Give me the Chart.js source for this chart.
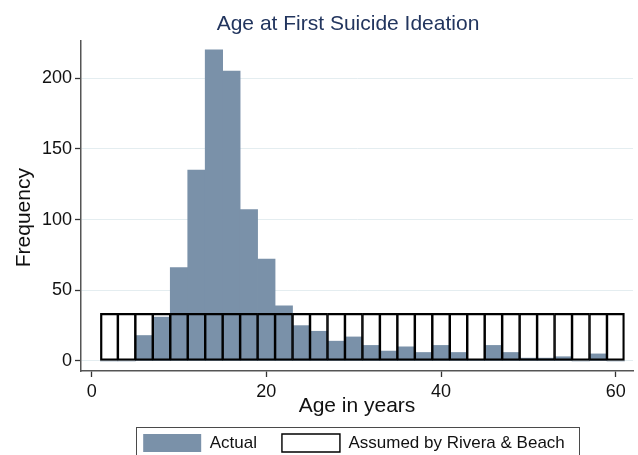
<!DOCTYPE html>
<html>
<head>
<meta charset="utf-8">
<script src="https://cdn.jsdelivr.net/npm/chart.js@4/dist/chart.umd.min.js"></script>
<style>
  html, body { margin: 0; padding: 0; background: #fff; }
</style>
</head>
<body>
<canvas id="ageChart" width="638" height="455"></canvas>
<script>
// 2-year bins from 1 to 61, centred here
const binCenters = [2, 4, 6, 8, 10, 12, 14, 16, 18, 20, 22, 24, 26, 28, 30,
                    32, 34, 36, 38, 40, 42, 44, 46, 48, 50, 52, 54, 56, 58, 60];
const actualCounts = [0, 0, 18, 31, 66, 135, 220, 205, 107, 72, 39, 25, 21, 14, 17,
                      11, 7, 10, 6, 11, 6, 1, 11, 6, 2, 2, 3, 0, 5, 0];
const assumedCounts = [33.7, 33.7, 33.7, 33.7, 33.7, 33.7, 33.7, 33.7, 33.7, 33.7,
                       33.7, 33.7, 33.7, 33.7, 33.7, 33.7, 33.7, 33.7, 33.7, 33.7,
                       33.7, 33.7, 33.7, 33.7, 33.7, 33.7, 33.7, 33.7, 33.7, 33.7];
const xTicks = [0, 20, 40, 60];
const yTicks = [0, 50, 100, 150, 200];

Chart.defaults.font.family = "'Liberation Sans', Arial, sans-serif";
Chart.defaults.color = "#111";

const lastBin = binCenters.length - 1;

// nudges title/legend to where the original puts them, and boxes the legend
const layoutFix = {
    id: "layoutFix",
    afterLayout(chart) {
        const t = chart.titleBlock;
        const dx = 348 - (t.left + t.right) / 2;
        t.left += dx;
        t.right += dx;
        const lg = chart.legend;
        lg.left -= 3;
        lg.right -= 3;
        lg.top = 409;
        lg.bottom = chart.height;
        lg.height = lg.bottom - lg.top;
    },
    afterDraw(chart) {
        const boxes = chart.legend.legendHitBoxes;
        if (!boxes || !boxes.length) return;
        const first = boxes[0];
        const last = boxes[boxes.length - 1];
        const ctx = chart.ctx;
        const x0 = Math.round(first.left - 7) + 0.5;
        const x1 = Math.round(last.left + last.width + 14) + 0.5;
        const y0 = Math.round(first.top - 7) + 0.5;
        ctx.save();
        ctx.strokeStyle = "#4a4a4a";
        ctx.lineWidth = 1;
        ctx.strokeRect(x0, y0, x1 - x0, 60);
        ctx.restore();
    }
};

new Chart(document.getElementById("ageChart"), {
    type: "bar",
    data: {
        labels: binCenters,
        datasets: [
            {
                label: "Actual",
                data: actualCounts,
                backgroundColor: "#7a91a9",
                borderWidth: 0,
                barPercentage: 1,
                categoryPercentage: 1,
                grouped: false,
                order: 1
            },
            {
                label: "Assumed by Rivera & Beach",
                data: assumedCounts,
                backgroundColor: "rgba(255,255,255,0)",
                borderColor: "#000",
                borderWidth: c => ({
                    left: c.dataIndex === 0 ? 1.6 : 0.9,
                    right: c.dataIndex === lastBin ? 1.6 : 0.9,
                    top: 1.6,
                    bottom: 1.6
                }),
                borderSkipped: false,
                barPercentage: 1,
                categoryPercentage: 1,
                grouped: false,
                order: 0
            }
        ]
    },
    options: {
        responsive: false,
        animation: false,
        layout: { padding: { left: 0, right: 5, top: 0, bottom: 0 } },
        plugins: {
            title: {
                display: true,
                text: "Age at First Suicide Ideation",
                color: "#22355e",
                font: { size: 21, weight: "normal", lineHeight: 1.2 },
                padding: { top: 12, bottom: 3.8 }
            },
            legend: {
                position: "bottom",
                fullSize: false,
                reverse: true,
                maxHeight: 36.4,
                labels: {
                    boxWidth: 58,
                    boxHeight: 18,
                    padding: 25,
                    color: "#111",
                    font: { size: 17 }
                }
            },
            tooltip: { enabled: false }
        },
        scales: {
            x: {
                type: "linear",
                min: -1.22,
                max: 61.98,
                offset: false,
                afterBuildTicks: s => { s.ticks = xTicks.map(v => ({ value: v })); },
                afterFit: s => { s.height = 47.6; },
                grid: {
                    drawOnChartArea: false,
                    drawTicks: true,
                    offset: false,
                    tickLength: 6,
                    tickColor: "#333",
                    tickWidth: 1.3
                },
                border: { color: "#555", width: 1.5 },
                ticks: { font: { size: 18 }, color: "#111", padding: 4, maxRotation: 0, autoSkip: false },
                title: {
                    display: true,
                    text: "Age in years",
                    color: "#111",
                    font: { size: 21, lineHeight: 1.2 },
                    padding: { top: 0, bottom: 0 }
                }
            },
            y: {
                min: -7.1,
                max: 226.3,
                afterBuildTicks: s => { s.ticks = yTicks.map(v => ({ value: v })); },
                afterFit: s => { s.width = 81; },
                grid: {
                    color: "#e4edf0",
                    lineWidth: 1,
                    tickLength: 6,
                    tickColor: "#333",
                    tickWidth: 1.3
                },
                border: { color: "#555", width: 1.5 },
                ticks: { font: { size: 18 }, color: "#111", padding: 3 },
                title: {
                    display: true,
                    text: "Frequency    ",
                    color: "#111",
                    font: { size: 21, lineHeight: 1.2 },
                    padding: { top: 12, bottom: 0 }
                }
            }
        }
    },
    plugins: [layoutFix]
});
</script>
</body>
</html>
